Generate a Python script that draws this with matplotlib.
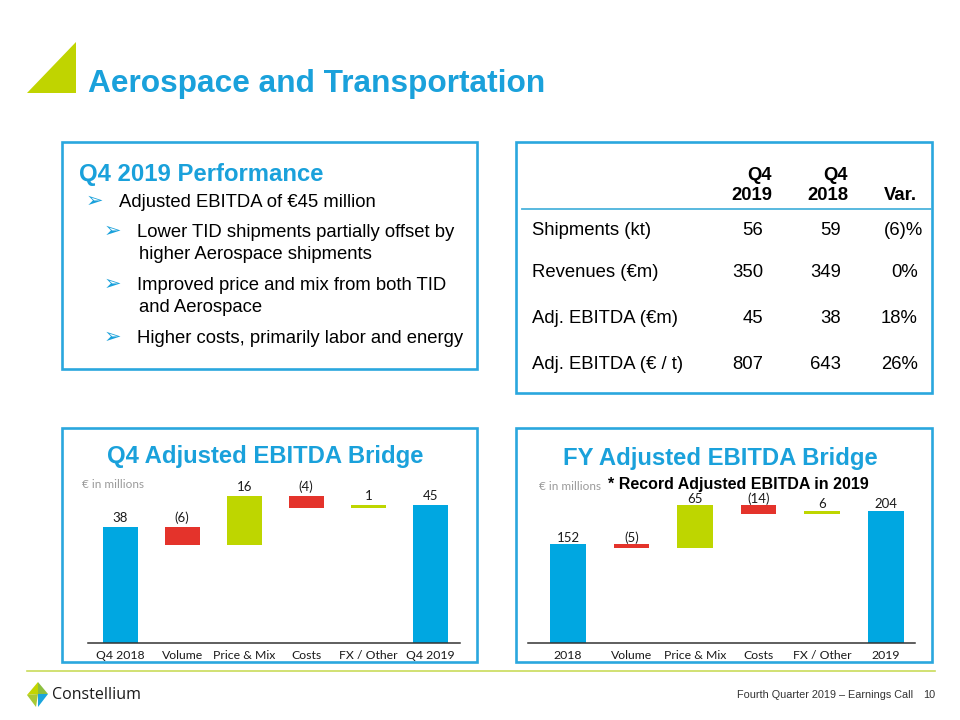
import numpy as np
import matplotlib.pyplot as plt
from matplotlib.patches import Rectangle, Polygon

# colours
BLUE_TXT = '#1AA1DB'
BOX_BLUE = '#2AA7DE'
BAR_BLUE = '#00A7E1'
RED = '#E4332B'
GREEN = '#BED600'
LIME = '#C0D400'

# bridge data
q4_labels = ['Q4 2018', 'Volume', 'Price & Mix', 'Costs', 'FX / Other', 'Q4 2019']
q4_start = 38
q4_steps = [-6, 16, -4, 1]
q4_end = 45

fy_labels = ['2018', 'Volume', 'Price & Mix', 'Costs', 'FX / Other', '2019']
fy_start = 152
fy_steps = [-5, 65, -14, 6]
fy_end = 204

# table data
table_rows = ['Shipments (kt)', 'Revenues (€m)', 'Adj. EBITDA (€m)', 'Adj. EBITDA (€ / t)']
q4_2019_vals = ['56', '350', '45', '807']
q4_2018_vals = ['59', '349', '38', '643']
var_vals = ['(6)%', '0%', '18%', '26%']

bullets = [
    (0, ['Adjusted EBITDA of €45 million']),
    (1, ['Lower TID shipments partially offset by', 'higher Aerospace shipments']),
    (1, ['Improved price and mix from both TID', 'and Aerospace']),
    (1, ['Higher costs, primarily labor and energy']),
]

ARIAL = ['Liberation Sans', 'DejaVu Sans']
plt.rcParams['font.family'] = ARIAL

fig = plt.figure(figsize=(9.6, 7.2), dpi=100)
ov = fig.add_axes([0, 0, 1, 1])
ov.set_xlim(0, 960)
ov.set_ylim(720, 0)
ov.axis('off')

# header
ov.add_patch(Polygon([(27, 93), (76, 42), (76, 93)], closed=True, color=LIME, lw=0))
ov.text(88, 92, 'Aerospace and Transportation', fontsize=22.8, weight='bold',
        color=BLUE_TXT, va='baseline', ha='left')

# boxes
for x0, y0, x1, y1 in [(62, 142, 477, 369), (516, 142, 932, 393),
                       (62, 428, 477, 662), (516, 428, 932, 662)]:
    ov.add_patch(Rectangle((x0, y0), x1 - x0, y1 - y0, fill=False,
                           edgecolor=BOX_BLUE, lw=1.9))

# performance text (baselines ~6.6 px below the cap centre)
ov.text(79, 181, 'Q4 2019 Performance', fontsize=17.2, weight='bold',
        color=BLUE_TXT, va='baseline')
y = 200
for level, lines in bullets:
    ax_x = 86 if level == 0 else 104
    tx = 119 if level == 0 else 137
    ov.text(ax_x, y + 6.5, '➢', fontsize=15, color=BLUE_TXT, va='baseline',
            family=['DejaVu Sans'])
    for i, line in enumerate(lines):
        ov.text(tx + (2 if i else 0), y + 6.6, line, fontsize=13.3, va='baseline')
        y += 22
    y = 230 if level == 0 else y + 9

# table
FS = 13.3
hdr_x = [772, 848, 917]
ov.text(hdr_x[0], 180.5, 'Q4', fontsize=FS, weight='bold', ha='right', va='baseline')
ov.text(hdr_x[0], 200.5, '2019', fontsize=FS, weight='bold', ha='right', va='baseline')
ov.text(hdr_x[1], 180.5, 'Q4', fontsize=FS, weight='bold', ha='right', va='baseline')
ov.text(hdr_x[1], 200.5, '2018', fontsize=FS, weight='bold', ha='right', va='baseline')
ov.text(hdr_x[2], 200.5, 'Var.', fontsize=FS, weight='bold', ha='right', va='baseline')
ov.plot([522, 931], [209, 209], color='#4BB3DC', lw=1.3)
row_y = [228, 270, 316, 362]
for i, ry in enumerate(row_y):
    b = ry + 6.6
    ov.text(532, b, table_rows[i], fontsize=FS, va='baseline')
    ov.text(763, b, q4_2019_vals[i], fontsize=FS, va='baseline', ha='right')
    ov.text(841, b, q4_2018_vals[i], fontsize=FS, va='baseline', ha='right')
    vx = 923 if var_vals[i].startswith('(') else 918
    ov.text(vx, b, var_vals[i], fontsize=FS, va='baseline', ha='right')

# chart titles
ov.text(265, 463, 'Q4 Adjusted EBITDA Bridge', fontsize=17.2, weight='bold',
        color=BLUE_TXT, ha='center', va='baseline')
ov.text(720, 465, 'FY Adjusted EBITDA Bridge', fontsize=17.2, weight='bold',
        color=BLUE_TXT, ha='center', va='baseline')
ov.text(608, 489.5, '* Record Adjusted EBITDA in 2019', fontsize=11.5,
        weight='bold', color='black', ha='left', va='baseline')
ov.text(82, 485, '€ in millions', fontsize=8.5, color='#9A9A9A', va='center',
        family=['Lato', 'DejaVu Sans'])
ov.text(539, 486, '€ in millions', fontsize=8.5, color='#9A9A9A', va='center',
        family=['Lato', 'DejaVu Sans'])

# footer
ov.plot([27, 935], [671, 671], color='#C9DC5A', lw=1.2)
logo = [
    ([(38, 682), (27, 695), (38, 694)], '#C3D500'),
    ([(38, 682), (38, 694), (48, 694)], '#8CBF3F'),
    ([(27, 695), (38, 694), (36, 707)], '#A9C935'),
    ([(38, 694), (48, 694), (38, 707)], '#1BA5DC'),
]
for pts, c in logo:
    ov.add_patch(Polygon(pts, closed=True, color=c, lw=0))
ov.text(52, 695, 'Constellium', fontsize=11.5, weight='medium', color='#1A1A1A',
        va='center', family=['Open Sans', 'DejaVu Sans'])
ov.text(913, 695, 'Fourth Quarter 2019 – Earnings Call', fontsize=7.8,
        color='#333333', ha='right', va='center')
ov.text(935, 695, '10', fontsize=7.8, color='#333333', ha='right', va='center')


def waterfall(rect, labels, start, steps, end, ymax, xlim, off):
    ax = fig.add_axes(rect)
    ax.patch.set_alpha(0)
    vals = [start] + steps + [end]
    bottoms = [0]
    heights = [start]
    colors = [BAR_BLUE]
    run = start
    for s in steps:
        bottoms.append(run if s >= 0 else run + s)
        heights.append(abs(s))
        colors.append(GREEN if s >= 0 else RED)
        run += s
    bottoms.append(0)
    heights.append(end)
    colors.append(BAR_BLUE)
    xs = np.arange(len(labels))
    ax.bar(xs, heights, bottom=bottoms, width=0.56, color=colors, lw=0)
    for x, b, h, v in zip(xs, bottoms, heights, vals):
        txt = f'({abs(v)})' if v < 0 else f'{v}'
        ax.annotate(txt, (x, b + h), xytext=(0, off), textcoords='offset points',
                    ha='center', va='center', fontsize=9.5, color='#1A1A1A',
                    family=['Lato', 'DejaVu Sans'])
    ax.set_ylim(0, ymax)
    ax.set_xlim(*xlim)
    ax.set_xticks(xs)
    ax.set_xticklabels(labels, fontsize=8.8, color='#1A1A1A',
                       family=['Lato', 'DejaVu Sans'])
    ax.tick_params(axis='x', length=0, pad=5)
    ax.set_yticks([])
    for sp in ['left', 'right', 'top']:
        ax.spines[sp].set_visible(False)
    ax.spines['bottom'].set_color('#333333')
    ax.spines['bottom'].set_linewidth(1.1)
    return ax


W, H = 960.0, 720.0
waterfall([88 / W, (H - 643) / H, 372 / W, 173 / H], q4_labels, q4_start,
          q4_steps, q4_end, 173 / 3.06, (-0.52, 5.48), 6.5)
waterfall([528 / W, (H - 643) / H, 387 / W, 173 / H], fy_labels, fy_start,
          fy_steps, fy_end, 173 / 0.649, (-0.63, 5.46), 4.5)

fig.savefig('out.png', dpi=100)
